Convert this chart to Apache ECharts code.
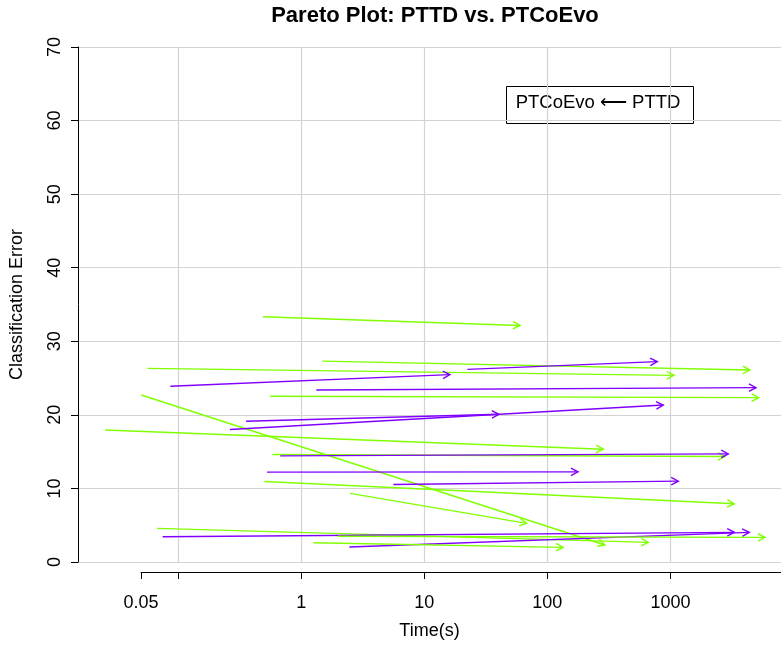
<!DOCTYPE html>
<html><head><meta charset="utf-8">
<script src="https://cdn.jsdelivr.net/npm/echarts@6/dist/echarts.min.js"></script>
<style>html,body{margin:0;padding:0;background:#fff}#c{width:781px;height:645px}</style>
</head><body><div id="c"></div>
<script>
// PTTD (arrow start) and PTCoEvo (arrow end) results per problem
const pttdTime    = [0.486, 1.476, 0.0558, 0.0858, 22.3, 1.32, 0.557, 0.0499, 0.0253, 0.262, 0.354, 0.579, 0.672, 0.524, 5.58, 0.499, 2.48, 0.0669, 0.0744, 2.45, 1.25, 1.98];
const pttdError   = [33.33, 27.31, 26.32, 23.88, 26.18, 23.38, 22.52, 22.70, 17.95, 18.00, 19.13, 14.61, 14.42, 12.21, 10.54, 10.95, 9.32, 4.57, 3.43, 2.03, 2.62, 3.49];
const coevoTime   = [59.8, 4430, 1068, 16.1, 781, 4955, 5212, 293, 284, 874, 40.3, 2773, 2951, 177, 1157, 3301, 67.7, 660, 3301, 4373, 134, 5865];
const coevoError  = [32.15, 26.09, 25.37, 25.47, 27.23, 23.70, 22.34, 2.31, 15.33, 21.34, 20.08, 14.34, 14.69, 12.25, 10.99, 7.91, 5.25, 2.67, 4.03, 4.03, 1.99, 3.35];
// 0 = error went down (green), 1 = error went up (purple)
const arrowGroup  = [0, 0, 0, 1, 1, 1, 0, 0, 0, 1, 1, 0, 1, 1, 1, 0, 0, 0, 1, 1, 0, 0];

const xTickValues  = [0.05, 0.1, 1, 10, 100, 1000, 10000];
const xTickLabels  = [0.05, 1, 10, 100, 1000];
const xGridValues  = [0.1, 1, 10, 100, 1000, 10000];

const GREEN = '#80FF00', PURPLE = '#8000FF';
const FONT = 'Liberation Sans, Arial, sans-serif';
const XMIN = Math.pow(10, (78 - 301.5) / 123);
const XMAX = Math.pow(10, (781 - 301.5) / 123);

const data = pttdTime.map((t, i) => [t, pttdError[i], coevoTime[i], coevoError[i]]);

function renderItem(params, api) {
  const p0 = api.coord([api.value(0), api.value(1)]);
  const p1 = api.coord([api.value(2), api.value(3)]);
  const color = arrowGroup[params.dataIndex] === 0 ? GREEN : PURPLE;
  const ang = Math.atan2(p1[1] - p0[1], p1[0] - p0[0]);
  const L = 8, a = 28 * Math.PI / 180;
  const h1 = [p1[0] - L * Math.cos(ang - a), p1[1] - L * Math.sin(ang - a)];
  const h2 = [p1[0] - L * Math.cos(ang + a), p1[1] - L * Math.sin(ang + a)];
  return {
    type: 'group',
    children: [
      {type: 'line', shape: {x1: p0[0], y1: p0[1], x2: p1[0], y2: p1[1]}, style: {stroke: color, lineWidth: 1.4}},
      {type: 'polyline', shape: {points: [h1, p1, h2]}, style: {stroke: color, lineWidth: 1.4, fill: null}}
    ]
  };
}

const chart = echarts.init(document.getElementById('c'));
chart.setOption({
  animation: false,
  backgroundColor: '#fff',
  title: [{
    text: 'Pareto Plot: PTTD vs. PTCoEvo', left: 430, textAlign: 'center', top: 0,
    textStyle: {fontFamily: FONT, fontWeight: 'bold', fontSize: 22, color: '#000'}
  }],
  graphic: [
    {type: 'rect', left: 504, top: 84, shape: {width: 187, height: 37}, style: {fill: null, stroke: '#000', lineWidth: 1}},
    {type: 'text', x: 598, y: 103, style: {text: 'PTCoEvo ⟵ PTTD', align: 'center', verticalAlign: 'middle', font: '18.5px ' + FONT, fill: '#000'}}
  ],
  grid: [
    {left: 78, right: 0, top: 47, bottom: 82},
    {left: 141, right: 0, top: 560, bottom: 73}
  ],
  xAxis: [
    {type: 'log', gridIndex: 0, min: XMIN, max: XMAX,
     axisLine: {show: false}, axisTick: {show: false, customValues: xGridValues}, axisLabel: {show: false},
     splitLine: {show: true, lineStyle: {color: '#d3d3d3', width: 1.2}},
     name: 'Time(s)', nameLocation: 'middle', nameGap: 60, nameTextStyle: {fontSize: 18, fontFamily: FONT, color: '#000'}},
    {type: 'log', gridIndex: 1, min: 0.05, max: XMAX, position: 'bottom',
     axisLine: {show: true, lineStyle: {color: '#000', width: 1}},
     axisTick: {show: true, customValues: xTickValues, length: 7, lineStyle: {color: '#000'}},
     axisLabel: {customValues: xTickLabels, formatter: v => String(+v.toPrecision(6)), margin: 22, fontSize: 18, fontFamily: FONT, color: '#000'},
     splitLine: {show: false}}
  ],
  yAxis: [
    {type: 'value', gridIndex: 0, min: 0, max: 70, interval: 10,
     axisLine: {show: true, lineStyle: {color: '#000', width: 1}},
     axisTick: {show: true, length: 7, lineStyle: {color: '#000'}},
     axisLabel: {rotate: 90, margin: 14, fontSize: 18, fontFamily: FONT, color: '#000'},
     splitLine: {show: true, lineStyle: {color: '#d3d3d3', width: 1.2}},
     name: 'Classification Error', nameLocation: 'middle', nameGap: 52, nameRotate: 90,
     nameTextStyle: {fontSize: 18, fontFamily: FONT, color: '#000'}},
    {type: 'value', gridIndex: 1, show: false}
  ],
  series: [{
    type: 'custom', xAxisIndex: 0, yAxisIndex: 0, renderItem: renderItem, data: data,
    encode: {x: [0, 2], y: [1, 3]}, clip: false
  }]
});
</script></body></html>
